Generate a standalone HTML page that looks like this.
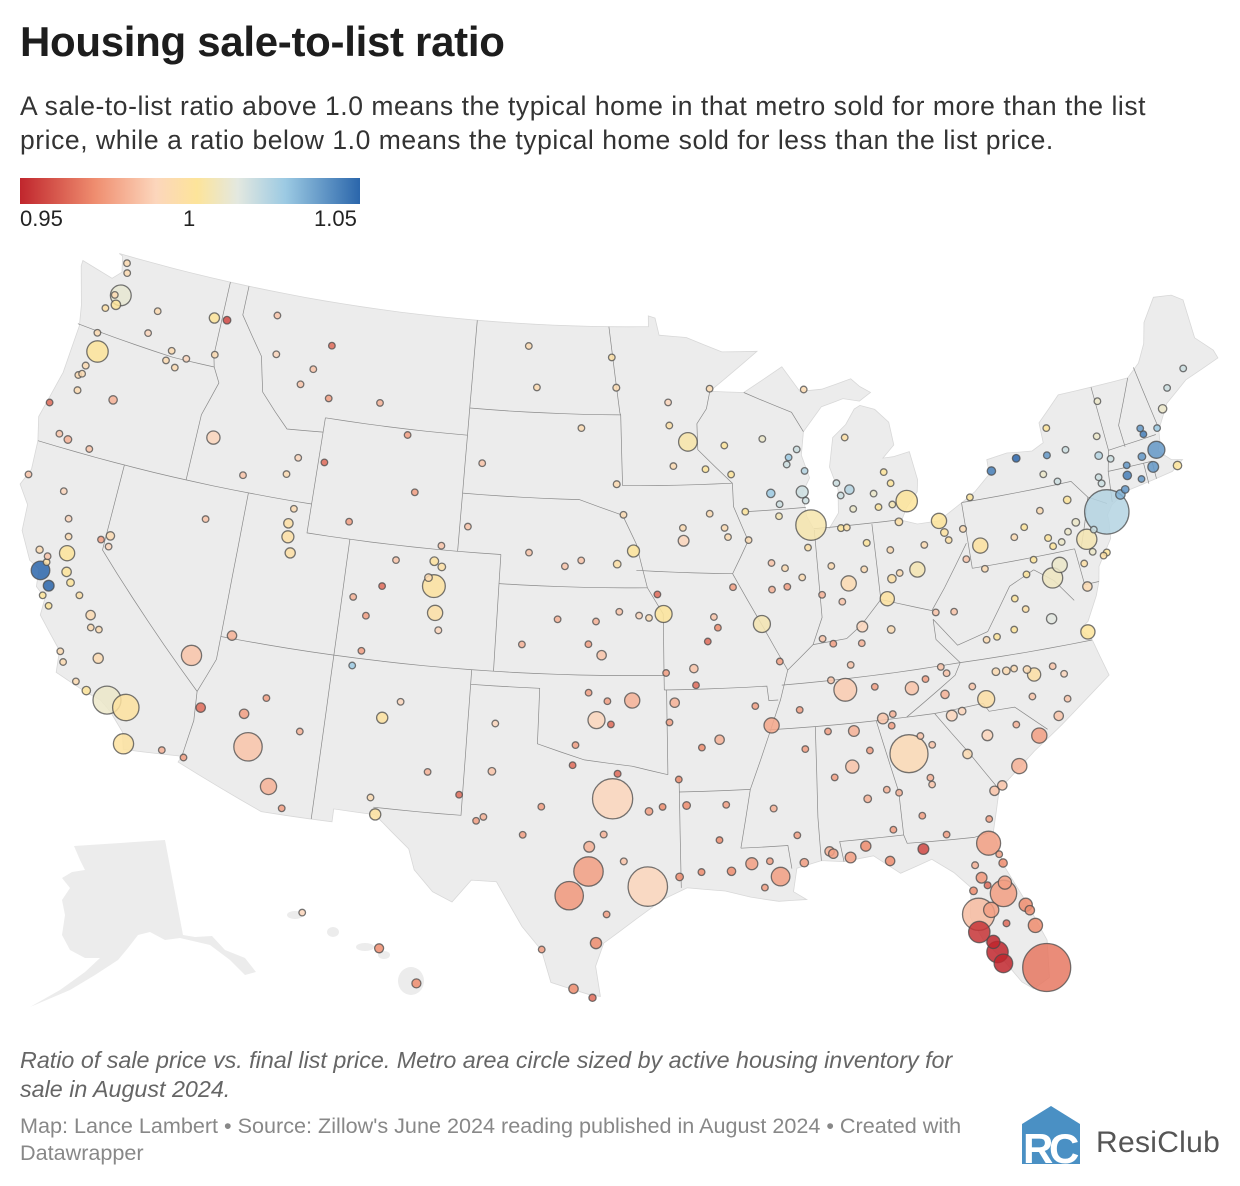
<!DOCTYPE html>
<html><head><meta charset="utf-8">
<style>
html,body{margin:0;padding:0;background:#fff;}
body{width:1240px;height:1186px;position:relative;overflow:hidden;font-family:"Liberation Sans",Arial,sans-serif;color:#1d1d1d;}
#title{position:absolute;left:20px;top:18px;font-size:42px;font-weight:bold;letter-spacing:-0.3px;margin:0;}
#subtitle{position:absolute;left:20px;top:89px;font-size:26.5px;line-height:34px;color:#333;white-space:nowrap;letter-spacing:0.55px;}
#legend-bar{position:absolute;left:20px;top:178px;width:340px;height:26px;background:linear-gradient(to right,#c0262d 0%,#ef8d6f 22%,#fcd6bc 40%,#fde49a 52%,#e3e8e0 64%,#9ccae3 78%,#2b66ab 100%);}
.lg{position:absolute;top:206px;font-size:22px;color:#222;}
#map{position:absolute;left:0;top:240px;}
#note{position:absolute;left:20px;top:1046px;font-size:23.3px;line-height:29px;font-style:italic;color:#666;white-space:nowrap;}
#source{position:absolute;left:20px;top:1112px;font-size:21.6px;line-height:27px;color:#888;white-space:nowrap;}
#logo{position:absolute;left:1022px;top:1106px;}
#logo-text{position:absolute;left:1096px;top:1126px;font-size:30px;color:#555;letter-spacing:0.3px;}
</style></head>
<body>
<h1 id="title">Housing sale-to-list ratio</h1>
<div id="subtitle">A sale-to-list ratio above 1.0 means the typical home in that metro sold for more than the list<br>price, while a ratio below 1.0 means the typical home sold for less than the list price.</div>
<div id="legend-bar"></div>
<div class="lg" style="left:20px">0.95</div>
<div class="lg" style="left:183px">1</div>
<div class="lg" style="left:314px">1.05</div>
<svg id="map" width="1240" height="800" viewBox="0 240 1240 800">
<g id="base"></g>
<g id="borders"></g>
<g id="dots"></g>
</svg>
<div id="note">Ratio of sale price vs. final list price. Metro area circle sized by active housing inventory for<br>sale in August 2024.</div>
<div id="source">Map: Lance Lambert • Source: Zillow's June 2024 reading published in August 2024 • Created with<br>Datawrapper</div>
<svg id="logo" width="62" height="60" viewBox="0 0 62 60">
<polygon points="0,18 29,0 58,18 58,58 0,58" fill="#4a90c4"/>
<text x="1" y="57" font-family="Liberation Sans, sans-serif" font-size="42" font-weight="bold" fill="#fff">R</text>
<text x="27" y="57" font-family="Liberation Sans, sans-serif" font-size="42" font-weight="bold" fill="#fff">C</text>
</svg>
<div id="logo-text">ResiClub</div>
<script>
// ---------- data ----------
const metroLonLat = [
[-122.33,47.61],[-122.68,45.52],[-122.44,47.25],[-122.48,48.75],[-122.33,48.42],[-122.9,47.04],[-122.63,47.57],[-120.31,47.42],[-120.5,46.6],[-119.14,46.21],
[-118.34,46.06],[-117.43,47.66],[-116.78,47.68],[-117.0,46.42],[-123.04,44.94],[-123.09,44.05],[-121.31,44.06],[-122.87,42.33],[-123.26,44.56],[-122.94,46.14],
[-123.1,44.64],[-124.2,43.37],[-121.78,42.22],[-123.33,42.44],[-116.2,43.62],[-112.03,43.49],[-112.45,42.87],[-114.46,42.56],[-119.3,45.84],[-118.79,45.67],
[-113.99,46.87],[-114.31,48.2],[-112.03,46.59],[-111.04,45.68],[-108.5,45.78],[-111.3,47.5],[-112.53,46.0],[-106.31,42.87],[-104.82,41.14],[-106.96,44.8],
[-109.2,41.59],[-110.76,43.48],[-111.89,40.76],[-111.66,40.23],[-111.97,41.22],[-111.83,41.74],[-113.58,37.1],[-119.81,39.53],[-119.77,39.16],[-115.76,40.83],
[-108.55,39.06],[-104.99,39.74],[-104.82,38.83],[-105.08,40.59],[-105.27,40.01],[-104.71,40.42],[-104.61,38.25],[-107.88,37.27],[-107.32,39.55],[-107.88,38.48],
[-106.83,40.49],[-108.2,36.73],[-122.42,37.77],[-121.89,37.34],[-121.49,38.58],[-121.29,37.96],[-121.0,37.64],[-119.79,36.74],[-119.02,35.37],[-119.29,36.33],
[-120.48,37.3],[-122.71,38.44],[-122.29,38.3],[-122.26,38.1],[-122.03,36.97],[-121.66,36.68],[-120.66,35.28],[-120.43,34.95],[-119.18,34.2],[-118.24,34.05],
[-117.4,33.95],[-117.16,32.72],[-122.39,40.59],[-121.84,39.73],[-121.62,39.14],[-115.56,32.79],[-119.7,34.42],[-124.16,40.8],[-119.65,36.33],[-120.18,39.33],
[-115.14,36.17],[-112.07,33.45],[-110.97,32.22],[-112.47,34.54],[-114.32,34.48],[-111.65,35.2],[-114.62,32.69],[-110.3,31.55],[-110.03,34.25],[-106.65,35.08],
[-105.94,35.69],[-106.76,32.32],[-106.49,31.76],[-104.52,33.39],[-103.14,32.7],[-96.8,32.78],[-95.37,29.76],[-97.74,30.27],[-98.49,29.42],[-97.15,31.55],
[-97.73,31.12],[-96.33,30.63],[-95.3,32.35],[-94.74,32.5],[-94.1,30.08],[-97.4,27.8],[-98.23,26.2],[-97.5,25.9],[-99.5,27.53],[-97.0,28.8],
[-101.85,33.58],[-101.83,35.22],[-102.08,32.0],[-102.37,31.85],[-99.73,32.45],[-100.44,31.46],[-98.49,33.91],[-96.6,33.64],[-94.05,33.43],[-97.52,35.47],
[-95.99,36.15],[-98.39,34.6],[-97.06,36.12],[-97.88,36.4],[-96.9,35.33],[-97.34,37.69],[-95.68,39.05],[-95.24,38.97],[-96.57,39.18],[-97.93,38.06],
[-97.61,38.84],[-100.87,37.97],[-99.33,38.88],[-95.93,41.26],[-96.68,40.81],[-98.34,40.92],[-99.08,40.7],[-100.76,41.12],[-103.67,41.87],[-96.73,43.55],
[-103.23,44.08],[-96.79,46.88],[-100.78,46.81],[-97.03,47.93],[-101.3,48.23],[-96.4,42.5],[-98.49,45.46],[-93.27,44.98],[-94.16,45.56],[-92.1,46.79],
[-92.46,44.02],[-94.0,44.16],[-94.2,46.36],[-93.6,41.59],[-91.67,41.98],[-90.58,41.52],[-91.53,41.66],[-92.34,42.49],[-90.66,42.5],[-93.62,42.03],
[-87.91,43.04],[-89.4,43.07],[-88.0,44.51],[-88.42,44.26],[-91.5,44.81],[-91.24,43.8],[-89.63,44.96],[-88.54,44.02],[-87.71,43.75],[-89.02,42.68],
[-87.78,42.73],[-87.63,41.88],[-89.09,42.27],[-89.59,40.69],[-88.24,40.12],[-89.65,39.78],[-88.99,40.48],[-88.95,39.84],[-87.86,41.12],[-91.41,39.94],
[-86.16,39.77],[-85.14,41.08],[-86.25,41.68],[-87.56,37.97],[-86.87,40.42],[-86.53,39.17],[-87.41,39.47],[-85.39,40.19],[-85.98,41.68],[-83.05,42.33],
[-85.67,42.96],[-84.55,42.73],[-83.74,42.28],[-85.59,42.29],[-83.69,43.01],[-83.95,43.42],[-85.62,44.76],[-86.25,43.23],[-86.11,42.79],[-84.4,42.25],
[-87.4,46.55],[-82.99,39.96],[-81.69,41.5],[-84.51,39.1],[-84.19,39.76],[-83.54,41.66],[-81.52,41.08],[-80.65,41.1],[-81.38,40.8],[-82.52,40.76],
[-83.81,39.92],[-84.1,40.74],[-94.58,39.1],[-90.2,38.63],[-93.29,37.21],[-92.33,38.95],[-94.51,37.08],[-92.17,38.58],[-94.85,39.77],[-89.52,37.31],
[-93.22,36.64],[-92.64,38.12],[-92.29,34.75],[-94.16,36.06],[-94.4,35.39],[-90.7,35.84],[-93.05,34.5],[-85.76,38.25],[-84.5,38.04],[-86.44,36.99],
[-87.11,37.77],[-85.86,37.69],[-86.78,36.16],[-90.05,35.15],[-83.92,35.96],[-85.31,35.05],[-87.36,36.53],[-88.81,35.61],[-82.35,36.31],[-82.56,36.55],
[-84.87,35.16],[-85.5,36.16],[-83.29,36.21],[-84.39,33.75],[-86.8,33.52],[-86.59,34.73],[-86.3,32.37],[-88.04,30.69],[-87.9,30.6],[-87.57,33.21],
[-85.48,32.61],[-85.39,31.22],[-87.68,34.8],[-86.0,34.01],[-90.18,32.3],[-89.09,30.37],[-89.29,31.33],[-88.7,34.26],[-90.07,29.95],[-91.19,30.45],
[-92.02,30.22],[-93.75,32.53],[-93.22,30.23],[-92.12,32.51],[-92.45,31.31],[-90.72,29.6],[-90.46,30.5],[-81.97,33.47],[-81.1,32.08],[-83.63,32.84],
[-84.99,32.46],[-83.38,33.95],[-84.16,31.58],[-83.28,30.83],[-83.82,34.3],[-83.6,32.6],[-81.49,31.15],[-84.97,34.77],[-80.19,25.76],[-82.46,27.95],
[-81.38,28.54],[-81.66,30.33],[-81.95,26.56],[-82.53,27.34],[-81.79,26.14],[-80.35,27.27],[-80.59,28.03],[-81.95,28.04],[-81.26,28.9],[-82.14,29.19],
[-82.32,29.65],[-84.28,30.44],[-87.22,30.42],[-86.57,30.76],[-85.66,30.16],[-81.44,27.5],[-82.05,26.93],[-82.53,28.78],[-80.47,27.82],[-81.21,29.58],
[-81.95,28.9],[-81.31,29.9],[-80.84,35.23],[-78.64,35.78],[-78.9,35.99],[-79.79,36.07],[-80.24,36.1],[-82.55,35.6],[-77.94,34.23],[-78.88,35.05],
[-81.34,35.73],[-77.37,35.61],[-77.43,34.75],[-79.44,36.1],[-77.79,35.94],[-81.03,34.0],[-79.93,32.78],[-82.39,34.85],[-81.93,34.95],[-78.89,33.69],
[-80.75,32.22],[-79.76,34.2],[-76.0,36.85],[-77.44,37.54],[-79.94,37.27],[-79.14,37.41],[-78.48,38.03],[-80.41,37.23],[-78.87,38.45],[-78.16,39.19],
[-77.04,38.9],[-76.61,39.29],[-75.17,39.95],[-74.0,40.71],[-71.06,42.36],[-71.41,41.82],[-72.68,41.76],[-72.93,41.31],[-73.2,41.18],[-71.8,42.26],
[-72.59,42.1],[-73.76,42.65],[-78.88,42.89],[-77.61,43.16],[-76.15,43.05],[-75.23,43.1],[-75.92,42.1],[-76.5,42.44],[-79.99,40.44],[-75.49,40.6],
[-76.88,40.27],[-76.31,40.04],[-75.66,41.41],[-76.73,39.96],[-75.93,40.34],[-80.09,42.13],[-77.86,40.79],[-78.39,40.52],[-77.0,41.24],[-74.76,40.22],
[-74.42,39.36],[-74.59,39.28],[-75.03,39.49],[-75.52,39.16],[-75.6,38.37],[-77.72,39.64],[-71.46,42.99],[-70.26,43.66],[-70.76,43.07],[-70.3,41.65],
[-73.21,44.48],[-68.77,44.8],[-69.78,44.31],[-71.54,43.21],[-72.08,41.52],[-73.25,42.45],[-74.0,41.93],[-73.93,41.7],[-73.64,43.31],[-75.91,43.97],
[-81.63,38.35],[-82.44,38.42],[-79.96,39.63],[-80.72,40.06]
];
const saleToList = [
1.012,1.0,1.0,0.99,0.99,0.995,0.99,0.99,0.985,0.99,
0.985,1.0,0.955,0.99,0.99,0.99,0.975,0.975,0.99,0.99,
0.99,0.96,0.98,0.98,0.985,0.985,0.99,0.98,0.99,0.99,
0.985,0.98,0.98,0.97,0.975,0.96,0.98,0.97,0.98,0.97,
0.97,0.96,0.995,0.995,0.995,0.99,0.975,0.99,0.985,0.98,
0.975,0.998,0.995,0.998,0.99,0.995,0.985,0.97,0.96,0.97,
0.98,1.03,1.05,1.05,1.0,1.0,1.0,0.99,0.99,0.99,
0.995,0.99,0.98,0.995,1.0,1.0,0.99,0.99,1.0,1.01,
0.998,0.998,0.985,0.985,0.99,0.975,0.99,0.98,0.99,0.97,
0.98,0.98,0.975,0.97,0.96,0.97,0.97,0.97,0.975,0.998,
0.985,0.99,0.998,0.975,0.96,0.985,0.985,0.97,0.968,0.975,
0.975,0.98,0.97,0.965,0.965,0.965,0.965,0.96,0.97,0.97,
0.98,0.985,0.975,0.97,0.97,0.97,0.96,0.96,0.965,0.985,
0.975,0.97,0.97,0.97,0.96,0.98,0.985,0.99,0.98,0.97,
0.975,0.975,0.975,1.0,0.995,0.98,0.98,0.98,0.98,0.99,
0.98,0.99,0.99,0.995,0.99,0.99,0.99,1.003,0.995,0.99,
1.0,0.99,0.985,0.985,0.99,0.99,0.99,0.99,1.0,0.99,
1.02,1.03,1.02,1.03,1.0,1.0,1.01,1.02,1.025,1.02,
1.02,1.004,1.005,0.98,0.99,0.975,0.99,0.97,0.995,0.97,
0.99,1.0,1.0,0.98,0.99,0.98,0.975,0.99,0.995,1.0,
1.025,1.01,1.005,1.01,1.0,1.0,0.995,1.02,1.02,1.0,
0.99,1.005,1.0,0.998,0.995,0.995,0.998,0.99,0.995,0.99,
0.99,0.99,1.0,1.005,0.98,0.98,0.97,0.965,0.96,0.97,
0.96,0.96,0.975,0.975,0.97,0.97,0.965,0.985,0.99,0.98,
0.97,0.975,0.982,0.972,0.98,0.98,0.98,0.97,0.98,0.98,
0.975,0.97,0.97,0.988,0.98,0.975,0.975,0.975,0.97,0.97,
0.975,0.97,0.97,0.97,0.975,0.97,0.97,0.97,0.97,0.97,
0.965,0.965,0.965,0.97,0.965,0.97,0.97,0.99,0.98,0.975,
0.975,0.98,0.97,0.97,0.98,0.98,0.97,0.97,0.962,0.978,
0.97,0.97,0.95,0.952,0.95,0.965,0.965,0.97,0.97,0.968,
0.975,0.955,0.97,0.965,0.965,0.96,0.95,0.965,0.965,0.965,
0.96,0.97,0.995,0.995,0.99,0.99,0.99,0.975,0.98,0.98,
0.98,0.985,0.98,0.99,0.98,0.985,0.975,0.985,0.985,0.97,
0.98,0.975,1.0,1.015,1.0,1.0,0.995,0.99,1.0,1.0,
1.008,1.01,1.005,1.025,1.04,1.04,1.045,1.04,1.035,1.04,
1.04,1.025,1.045,1.05,1.04,1.02,1.02,1.01,0.998,1.01,
1.0,1.01,1.0,1.0,1.01,1.0,1.0,0.99,0.99,1.02,
1.0,0.995,1.01,0.995,0.99,1.0,1.045,1.01,1.03,1.0,
1.01,1.02,1.02,1.04,1.04,1.02,1.02,1.02,1.01,1.0,
0.98,0.98,0.99,0.98
];
const inventoryK = [
7.5,8,1.5,0.5,0.4,0.5,0.4,0.4,0.4,0.6,
0.3,1.8,1.0,0.3,0.8,0.8,1.2,1.0,0.3,0.3,
0.3,0.3,0.3,0.4,3,0.6,0.4,0.5,0.3,0.2,
0.5,0.6,0.3,0.5,0.5,0.3,0.2,0.3,0.4,0.2,
0.2,0.2,2.5,1.8,1.5,0.3,1.5,1.2,0.3,0.2,
0.6,9,4,1.3,1.0,1.0,0.8,0.3,0.3,0.3,
0.2,0.2,6,2,4,1.5,1,1.5,1.8,0.6,
0.5,0.9,0.4,0.6,0.5,0.5,0.6,0.5,1.2,13.6,
12,7,0.5,0.5,0.3,0.4,0.6,0.3,0.3,0.3,
7,14,4.5,1.5,1.5,0.6,0.5,0.4,0.4,2.2,
0.7,0.7,2.2,0.2,0.2,28,27,15,14,0.8,
2,0.8,1,0.7,1,2.2,1.5,0.9,0.5,0.3,
1,0.7,0.5,0.4,0.5,0.4,0.4,0.8,0.3,5,
4,0.3,0.2,0.2,0.2,1.5,0.5,0.3,0.3,0.2,
0.2,0.2,0.2,2.5,1,0.3,0.2,0.2,0.2,0.8,
0.6,0.8,0.4,0.3,0.2,0.3,0.2,6,0.5,0.6,
0.6,0.3,0.3,2,0.6,0.7,0.5,0.4,0.3,0.3,
2.5,1.2,0.5,0.4,0.3,0.3,0.3,0.3,0.2,0.3,
0.3,16,0.6,0.7,0.5,0.5,0.4,0.3,0.3,0.2,
4,0.8,0.8,0.6,0.4,0.4,0.3,0.3,0.4,8,
1.5,0.6,0.6,0.5,0.6,0.3,0.5,0.4,0.3,0.3,
0.2,4,4,3.5,1.2,1,1,0.8,0.6,0.3,
0.3,0.2,5,5,1.2,0.4,0.4,0.2,0.2,0.3,
0.5,0.4,1.5,1.5,0.5,0.3,0.5,2,1,0.4,
0.2,0.2,9,4,3,2,0.8,0.3,0.6,0.6,
0.4,0.4,0.3,25,3,2,1,1.5,1.5,0.6,
0.6,0.4,0.3,0.3,0.8,1.2,0.3,0.2,6,2.5,
1.2,1,0.8,0.3,0.3,0.4,0.5,1.5,1.5,0.6,
0.6,0.4,0.3,0.3,0.4,0.4,0.4,0.2,40,18,
12,10,8,8,6,3.5,3,4,3,2,
0.8,2,2,1.8,1.5,0.8,3,1,1.5,1.2,
0.8,0.6,5,3,1,1,1,1.2,1.5,0.7,
0.6,0.3,0.4,0.3,0.3,2,4,2,1,4,
1.5,0.3,3.5,1.8,0.5,0.4,0.4,0.3,0.2,0.3,
7,4,7,34,5,2,1.2,1,1.5,1,
0.7,1,1.2,1,0.8,0.3,0.3,0.2,4,1,
0.8,0.6,1,0.5,0.4,0.3,0.3,0.2,0.2,0.5,
0.8,0.5,0.2,0.5,1.5,0.4,0.5,1.2,0.5,1.2,
0.3,0.3,0.3,0.3,0.4,0.3,0.4,0.8,0.3,0.2,
0.4,0.4,0.3,0.2
];
const hawaiiLonLat = [[-159.32,22.08],[-156.47,20.89],[-155.09,19.72]];
const hawaiiRatio = [0.985,0.965,0.965];
const hawaiiInventoryK = [0.5,1.4,1.4];
const colorStops = [0.95,0.965,0.985,1.0,1.015,1.03,1.05];
const colorHex = ['#c0262d','#ef8d6f','#fcd6bc','#fde49a','#e3e8e0','#9ccae3','#2b66ab'];

// ---------- projection (Albers conic) ----------
const D=Math.PI/180, p1=29.5*D, p2=45.5*D, p0=37.5*D, l0=-96;
const n=(Math.sin(p1)+Math.sin(p2))/2, C=Math.cos(p1)**2+2*n*Math.sin(p1), rho0=Math.sqrt(C-2*n*Math.sin(p0))/n;
const K=1660, TX=632, TY=661;
function proj(lon,lat){const r=Math.sqrt(C-2*n*Math.sin(lat*D))/n, t=n*(lon-l0)*D;return [TX+K*r*Math.sin(t), TY-K*(rho0-r*Math.cos(t))];}
function hawaiiProj(lon,lat){return [300+(lon+159.4)*27, 915+(22.0-lat)*30];}
function radius(inv){return Math.max(3.3,3.8*Math.sqrt(inv));}
function hex2rgb(h){return [1,3,5].map(i=>parseInt(h.substr(i,2),16));}
function color(v){v=Math.max(colorStops[0],Math.min(colorStops[colorStops.length-1],v));
 for(let i=0;i<colorStops.length-1;i++){if(v<=colorStops[i+1]){const f=(v-colorStops[i])/(colorStops[i+1]-colorStops[i]);const a=hex2rgb(colorHex[i]),b=hex2rgb(colorHex[i+1]);return 'rgb('+a.map((x,j)=>Math.round(x+(b[j]-x)*f)).join(',')+')';}}return colorHex[colorHex.length-1];}
function dens(pts){const out=[];for(let i=0;i<pts.length;i++){if(i>0){const a=pts[i-1],b=pts[i];const s=Math.max(1,Math.ceil(Math.max(Math.abs(b[0]-a[0]),Math.abs(b[1]-a[1]))));for(let k=1;k<s;k++)out.push([a[0]+(b[0]-a[0])*k/s,a[1]+(b[1]-a[1])*k/s]);}out.push(pts[i]);}return out;}
function pathOf(pts,close){return dens(pts).map((p,i)=>{const q=proj(p[0],p[1]);return (i?'L':'M')+q[0].toFixed(1)+' '+q[1].toFixed(1);}).join('')+(close?'Z':'');}
const NS='http://www.w3.org/2000/svg';

// ---------- base map ----------
const outline=[[-123.0,49.0],[-95.15,49.0],[-95.15,49.38],[-94.8,49.3],[-94.6,48.7],[-93.2,48.6],[-91.4,48.05],[-89.6,48.0],[-92.1,46.7],[-90.4,46.6],[-88.4,47.4],[-87.6,46.5],[-86.5,46.5],[-85.0,46.75],[-84.6,46.45],[-84.1,46.2],[-84.7,45.95],[-85.5,46.1],[-86.6,45.9],[-87.6,45.1],[-87.8,44.3],[-87.5,43.5],[-87.9,43.0],[-87.8,42.2],[-87.5,41.7],[-86.8,41.7],[-86.3,42.2],[-86.2,43.0],[-86.5,43.8],[-86.2,44.8],[-85.5,45.2],[-85.0,45.7],[-84.7,45.8],[-84.0,45.6],[-83.4,45.1],[-83.3,44.3],[-83.9,43.9],[-83.4,43.9],[-82.6,44.0],[-82.4,43.0],[-82.5,42.6],[-83.1,42.1],[-83.4,41.7],[-82.7,41.5],[-81.7,41.5],[-80.5,42.0],[-79.8,42.3],[-79.0,42.8],[-79.0,43.3],[-78.0,43.4],[-76.8,43.3],[-76.2,43.5],[-76.2,44.2],[-75.0,45.0],[-71.5,45.0],[-70.8,45.4],[-70.3,46.0],[-70.0,46.7],[-69.2,47.45],[-68.3,47.35],[-67.8,47.07],[-67.8,45.7],[-67.1,45.1],[-67.0,44.8],[-68.8,44.4],[-70.0,43.8],[-70.7,43.0],[-70.8,42.6],[-71.0,42.3],[-70.5,41.9],[-70.0,41.8],[-70.6,41.5],[-71.5,41.4],[-72.9,41.25],[-73.7,40.9],[-74.0,40.6],[-74.0,40.4],[-74.1,39.8],[-74.9,38.95],[-75.05,38.45],[-75.3,38.0],[-75.9,37.2],[-76.3,37.0],[-75.9,36.6],[-75.5,35.25],[-76.5,34.7],[-77.9,33.9],[-79.2,33.2],[-80.9,32.1],[-81.4,30.7],[-81.2,29.5],[-80.5,28.0],[-80.0,26.7],[-80.15,25.4],[-80.8,25.1],[-81.2,25.4],[-81.8,26.3],[-82.4,27.0],[-82.8,27.9],[-82.6,28.9],[-83.2,29.5],[-84.0,30.05],[-85.3,29.7],[-86.3,30.4],[-87.5,30.3],[-88.4,30.4],[-89.4,30.2],[-89.6,29.4],[-89.1,29.1],[-90.2,29.1],[-91.3,29.3],[-92.3,29.55],[-93.8,29.7],[-94.8,29.3],[-95.9,28.6],[-97.1,27.8],[-97.4,27.0],[-97.2,25.95],[-97.6,26.0],[-99.1,26.4],[-99.5,27.5],[-100.3,28.3],[-101.4,29.8],[-102.4,29.8],[-103.1,29.0],[-103.9,29.3],[-104.7,30.0],[-105.0,30.7],[-106.5,31.75],[-108.2,31.78],[-108.2,31.33],[-111.1,31.33],[-114.8,32.5],[-114.7,32.72],[-117.12,32.53],[-117.3,33.1],[-118.0,33.7],[-118.5,34.0],[-119.2,34.15],[-120.6,34.55],[-120.7,35.3],[-121.9,36.3],[-121.9,36.9],[-122.4,37.2],[-122.5,37.8],[-123.0,38.0],[-123.7,38.9],[-123.8,39.8],[-124.4,40.4],[-124.1,41.0],[-124.2,42.0],[-124.5,42.8],[-124.0,44.5],[-123.9,46.2],[-124.1,46.9],[-124.7,48.2],[-124.7,48.4],[-123.0,48.1],[-122.6,48.4],[-122.8,48.95]];
const borders=[
[[-124,46.25],[-119,46],[-116.9,46]],[[-117.04,49],[-117.04,46.4],[-116.9,46]],[[-116.9,46],[-116.5,45.5],[-117.0,44.3],[-117.03,42]],
[[-124.2,42],[-111.05,42]],[[-120,42],[-120,39],[-114.6,35.0],[-114.5,34],[-114.7,32.7]],[[-114.05,42],[-114.05,36.2],[-114.6,35.0]],
[[-116.05,49],[-116.05,47.98],[-114.7,46.7],[-114.3,45.5],[-113.5,44.9],[-112.8,44.4],[-111.05,44.5]],[[-111.05,45],[-111.05,41],[-109.05,41]],
[[-114.05,37],[-102.05,37],[-94.6,37]],[[-111.05,45],[-104.05,45]],[[-109.05,41],[-102.05,41]],[[-104.05,43],[-98.5,43],[-96.5,42.5]],
[[-104.05,49],[-104.05,41]],[[-109.05,41],[-109.05,31.33]],[[-102.05,41],[-102.05,37]],[[-103,37],[-103,32],[-106.6,32]],
[[-103,36.5],[-100,36.5],[-100,34.6],[-98,34.1],[-96,33.9],[-94.5,33.6]],[[-104.05,45.94],[-96.56,45.94]],[[-97.2,49],[-96.6,46],[-96.56,45.94],[-96.45,43.5]],
[[-96.45,43.5],[-91.2,43.5]],[[-102.05,40],[-95.3,40]],[[-96.45,42.5],[-95.8,41.5],[-95.3,40],[-94.6,39.1],[-94.6,36.5]],[[-94.5,36.5],[-94.5,33.6]],
[[-95.8,40.6],[-91.4,40.4]],[[-94.6,36.5],[-90.15,36.5],[-90.1,36.0],[-89.7,36.0]],
[[-91.2,43.5],[-91.2,42.7],[-90.6,41.5],[-91.4,40.4],[-90.2,38.6],[-89.2,37.0],[-89.6,36.0],[-90.1,35.0],[-91.1,33.0],[-91.6,31.0]],
[[-92.1,46.7],[-92.3,46.1],[-92.8,45.6],[-92.8,44.7],[-91.2,43.5]],[[-90.6,42.5],[-87.8,42.5]],[[-90.4,46.6],[-88.1,45.8],[-87.6,45.1]],
[[-87.5,41.7],[-87.5,38.7],[-88.0,37.8]],[[-89.2,37.0],[-88.0,37.8],[-86.5,37.9],[-85.8,38.3],[-84.8,39.1],[-82.6,38.5],[-81.9,39.2],[-80.6,40.6]],
[[-84.8,41.7],[-84.8,39.1]],[[-87.5,41.75],[-83.4,41.73]],[[-80.52,42],[-80.52,39.72]],[[-80.5,42],[-75.3,42],[-74.7,41.35]],[[-80.52,39.72],[-75.8,39.72]],
[[-89.5,36.5],[-81.7,36.6],[-75.9,36.55]],[[-90.2,35],[-84.3,35]],[[-84.3,35],[-82,36.2],[-81.7,36.6]],[[-88.2,35],[-88.4,31.9],[-88.4,30.4]],
[[-85.6,35],[-85.0,32.5],[-85.0,31],[-87.6,31],[-87.5,30.3]],[[-85,31],[-84.9,30.7],[-82.2,30.6],[-81.5,30.7]],[[-83.1,35],[-81.9,33.5],[-80.9,32.1]],
[[-84.3,35],[-83.1,35],[-81,35.1],[-80.8,34.8],[-79.7,34.8],[-78.5,33.85]],[[-91.6,31.0],[-89.7,31.0],[-89.6,30.2]],[[-94.04,33],[-91.1,33]],
[[-94.04,33.55],[-94.04,29.7]],[[-82.6,38.2],[-81.7,37.2],[-80.3,37.5],[-79.0,38.9],[-77.8,39.3]],[[-82.6,38.2],[-82.6,37.5],[-81.7,36.6]],
[[-77.8,39.3],[-77.0,38.8],[-76.3,38.0]],[[-73.35,45],[-73.25,42.75],[-73.5,42.05],[-73.65,41.0]],[[-71.5,45],[-72.5,43.5],[-72.45,42.73]],
[[-73.25,42.75],[-70.9,42.87]],[[-73.5,42.05],[-71.4,42.02],[-71.4,41.4]],[[-71.8,42.02],[-71.8,41.3]],[[-71.1,45.3],[-70.7,43.1]],
[[-74.7,41.35],[-73.9,40.99]],[[-74.7,41.35],[-75.1,40.5],[-75.5,39.7]],[[-75.8,39.72],[-75.7,38.45],[-75.05,38.45]]
];
const base=document.getElementById('base');
let pth=document.createElementNS(NS,'path');
pth.setAttribute('d',pathOf(outline,true));pth.setAttribute('fill','#ececec');pth.setAttribute('stroke','#d8d8d8');pth.setAttribute('stroke-width','0.8');


base.appendChild(pth);
const ak=document.createElementNS(NS,'polygon');
ak.setAttribute('points','74,846 165,840 183,935 195,937 212,936 225,950 245,958 256,972 245,975 230,960 210,945 180,938 165,940 150,932 138,935 128,948 118,960 95,975 70,990 30,1007 60,990 85,972 100,958 85,958 70,950 62,935 65,915 62,900 70,888 62,878 72,872 85,870 80,860');
ak.setAttribute('fill','#ececec');


base.appendChild(ak);
[[295,915,8,4],[333,932,6,5],[365,947,9,4],[384,955,6,4],[411,981,13,14]].forEach(e=>{const el=document.createElementNS(NS,'ellipse');el.setAttribute('cx',e[0]);el.setAttribute('cy',e[1]);el.setAttribute('rx',e[2]);el.setAttribute('ry',e[3]);el.setAttribute('fill','#ececec');


base.appendChild(el);});
const bg=document.getElementById('borders');
borders.forEach(b=>{const el=document.createElementNS(NS,'path');el.setAttribute('d',pathOf(b,false));el.setAttribute('fill','none');el.setAttribute('stroke','#8a8a8a');el.setAttribute('stroke-width','0.7');


bg.appendChild(el);});

// ---------- circles ----------
const dots=document.getElementById('dots');
const items=[];
metroLonLat.forEach((ll,i)=>{const p=proj(ll[0],ll[1]);items.push({x:p[0],y:p[1],v:saleToList[i],inv:inventoryK[i]});});
hawaiiLonLat.forEach((ll,i)=>{const p=hawaiiProj(ll[0],ll[1]);items.push({x:p[0],y:p[1],v:hawaiiRatio[i],inv:hawaiiInventoryK[i]});});
items.sort((a,b)=>b.inv-a.inv);
items.forEach(d=>{const c=document.createElementNS(NS,'circle');
c.setAttribute('cx',d.x.toFixed(1));c.setAttribute('cy',d.y.toFixed(1));c.setAttribute('r',radius(d.inv).toFixed(1));
c.setAttribute('fill',color(d.v));c.setAttribute('fill-opacity','0.85');c.setAttribute('stroke','#4a4a4a');c.setAttribute('stroke-opacity','0.75');c.setAttribute('stroke-width','1.3');


dots.appendChild(c);});
</script>
</body></html>
